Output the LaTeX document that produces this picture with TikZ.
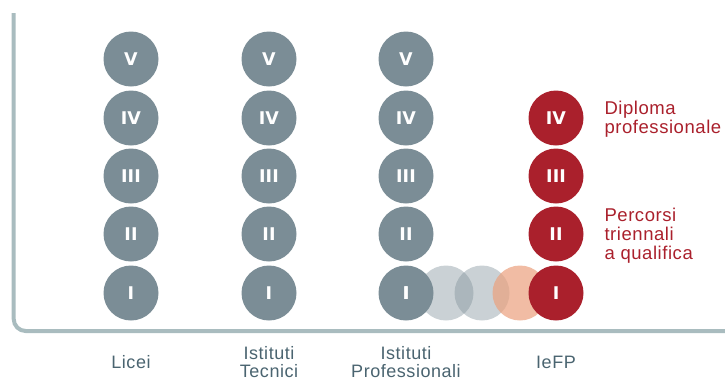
\documentclass[tikz,border=0pt]{standalone}
\usepackage{fontspec}
\setmainfont{Liberation Sans}[LetterSpace=3]
\newfontfamily\numfont{DejaVu Sans}
\definecolor{cgray}{RGB}{123,141,150}
\definecolor{cred}{RGB}{170,32,44}
\definecolor{caxis}{RGB}{169,188,191}
\definecolor{ctext}{RGB}{74,100,112}
\definecolor{corange}{RGB}{235,160,125}
\begin{document}
\begin{tikzpicture}[x=1pt,y=-1pt,
  yr/.style={circle,minimum size=55pt,inner sep=0pt,fill=cgray,text=white,font=\numfont\fontsize{17.5}{17.5}\selectfont\bfseries},
  rd/.style={yr,fill=cred},
  ghost/.style={circle,minimum size=55pt,inner sep=0pt,fill=cgray,fill opacity=0.4},
  peach/.style={circle,minimum size=55pt,inner sep=0pt,fill=corange,fill opacity=0.7},
  lab/.style={align=center,text=ctext,font=\fontsize{18}{18.6}\selectfont},
  rlab/.style={align=left,anchor=west,text=cred,font=\fontsize{18.5}{19}\selectfont},
  axisline/.style={draw=caxis,line width=4pt,rounded corners=12pt}]
\useasboundingbox (0,0) rectangle (725,381);
\draw[axisline] (13.7,13) -- (13.7,331) -- (725,331);
% columns
\foreach \c/\x in {a/131,b/269,c/406}{
  \node[yr] (\c5) at (\x,59) {V};
  \node[yr] (\c4) at (\x,118) {IV};
  \node[yr] (\c3) at (\x,176) {III};
  \node[yr] (\c2) at (\x,234) {II};
  \node[yr] (\c1) at (\x,293) {I};
}
\node[ghost] (g1) at (446,293) {};
\node[ghost] (g2) at (482,293) {};
\node[peach] (p1) at (520,293) {};
\node[rd] (d4) at (556,118) {IV};
\node[rd] (d3) at (556,176) {III};
\node[rd] (d2) at (556,234) {II};
\node[rd] (d1) at (556,293) {I};
\node[yr,fill=none] at (c1) {I};
% labels
\node[lab] (la) at (131,362) {Licei};
\node[lab] (lb) at (269,362) {Istituti\\Tecnici};
\node[lab] (lc) at (406,362) {Istituti\\Professionali};
\node[lab] (ld) at (556,362) {IeFP};
\node[rlab] (t1) at (601,119) {Diploma\\professionale};
\node[rlab] (t2) at (601,236) {Percorsi\\triennali\\a qualifica};
\end{tikzpicture}
\end{document}
